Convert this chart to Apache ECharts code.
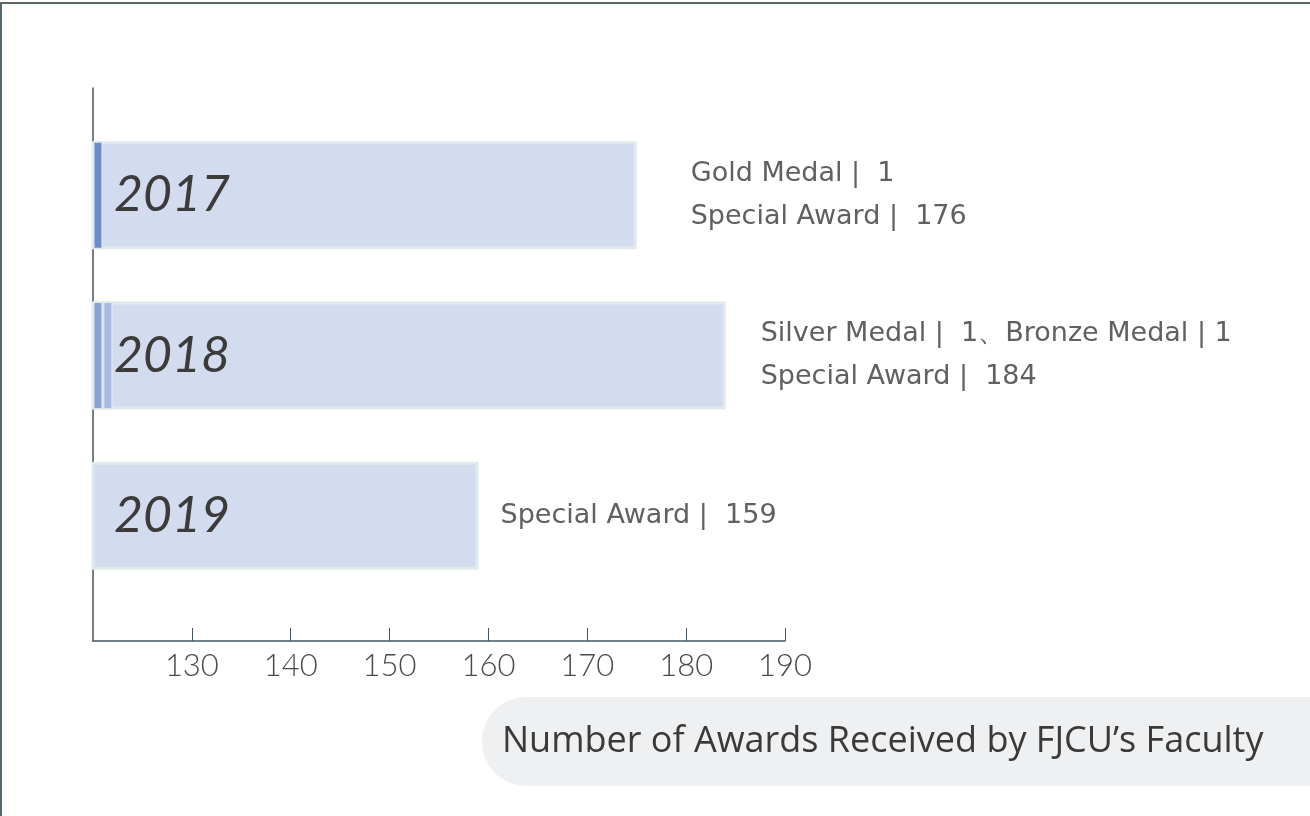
<!DOCTYPE html>
<html>
<head>
<meta charset="utf-8">
<title>Number of Awards Received by FJCU’s Faculty</title>
<script src="https://cdn.jsdelivr.net/npm/echarts@6/dist/echarts.min.js"></script>
<style>
  html, body { margin: 0; padding: 0; background: #fff; }
  #wrap { position: relative; width: 1310px; height: 816px; overflow: hidden; }
  #main { position: absolute; left: 0; top: 0; width: 1310px; height: 816px; }
  #frame { position: absolute; left: 0; top: 2px; right: -4px; bottom: -4px;
           border-top: 2px solid #56656e; border-left: 2px solid #56656e; pointer-events: none; }
</style>
</head>
<body>
<div id="wrap">
  <div id="main"></div>
  <div id="frame"></div>
</div>
<script>
// 年份
var years = ['2017', '2018', '2019']
// 特别奖 (柱长)
var specialAward = [175, 184, 159]
// 标注中的特别奖数量
var specialCount = [176, 184, 159]
// 奖牌
var goldMedal = [1, null, null]
var silverMedal = [null, 1, null]
var bronzeMedal = [null, 1, null]
var medalNotes = ['Gold Medal |  1', 'Silver Medal |  1、Bronze Medal | 1', '']
// X轴刻度
var xMin = 120
var xMax = 190
var xStep = 10

var chart = echarts.init(document.getElementById('main'))

var axisColor = '#46545f'
var noteGap = [54, 35, 22]  // 标注与柱子的距离

var option = {
  animation: false,
  title: {
    text: 'Number of Awards Received by FJCU’s Faculty',
    left: 482,
    top: 697,
    padding: [26, 140, 26, 20],
    backgroundColor: '#eff0f2',
    borderRadius: [44, 0, 0, 44],
    textStyle: {
      fontFamily: 'Open Sans',
      fontWeight: 'normal',
      fontSize: 36,
      lineHeight: 37,
      color: '#3a3a3a'
    }
  },
  grid: [
    // 坐标轴网格
    { left: 93, right: 525, top: 88, bottom: 175 },
    // 柱子网格
    { left: 93, right: 525, top: 115, bottom: 220 }
  ],
  xAxis: [
    {
      gridIndex: 0,
      type: 'value',
      min: xMin,
      max: xMax,
      interval: xStep,
      axisLine: { show: true, onZero: false, lineStyle: { color: axisColor, width: 1.5 } },
      axisTick: { show: true, inside: true, length: 13, lineStyle: { color: axisColor, width: 1 } },
      axisLabel: {
        showMinLabel: false,
        margin: 9,
        fontFamily: 'Lato',
        fontWeight: 300,
        fontSize: 31,
        color: '#4a4a4a'
      },
      splitLine: { show: false }
    },
    {
      gridIndex: 1,
      type: 'value',
      min: xMin,
      max: xMax,
      show: false
    }
  ],
  yAxis: [
    {
      gridIndex: 0,
      type: 'value',
      min: 0,
      max: 1,
      axisLine: { show: true, onZero: false, lineStyle: { color: axisColor, width: 1.5 } },
      axisTick: { show: false },
      axisLabel: { show: false },
      splitLine: { show: false }
    },
    {
      gridIndex: 1,
      type: 'category',
      data: years,
      inverse: true,
      z: 10,
      axisLine: { show: false },
      axisTick: { show: false },
      axisLabel: {
        inside: true,
        margin: 21,
        fontFamily: 'Lato',
        fontStyle: 'italic',
        fontSize: 50,
        color: '#3b3b3b'
      }
    }
  ],
  series: [
    {
      name: 'Special Award',
      type: 'bar',
      xAxisIndex: 1,
      yAxisIndex: 1,
      barWidth: 108,
      barGap: '-100%',
      data: specialAward.map(function (v, i) {
        return { value: v, label: { distance: noteGap[i] } }
      }),
      itemStyle: { color: '#d2dcee', borderColor: '#e0e9ec', borderWidth: 3 },
      label: {
        show: true,
        position: 'right',
        fontFamily: 'DejaVu Sans',
        fontSize: 27,
        lineHeight: 43,
        color: '#606060',
        formatter: function (p) {
          var s = 'Special Award |  ' + specialCount[p.dataIndex]
          return medalNotes[p.dataIndex] ? medalNotes[p.dataIndex] + '\n' + s : s
        }
      }
    },
    {
      // 透明底座, 让奖牌从轴起点开始
      name: 'base',
      type: 'bar',
      xAxisIndex: 1,
      yAxisIndex: 1,
      stack: 'medal',
      barWidth: 108,
      barGap: '-100%',
      silent: true,
      data: years.map(function () { return xMin }),
      itemStyle: { color: 'rgba(0,0,0,0)' }
    },
    {
      name: 'Gold Medal',
      type: 'bar',
      xAxisIndex: 1,
      yAxisIndex: 1,
      stack: 'medal',
      barWidth: 106,
      barGap: '-100%',
      data: goldMedal,
      itemStyle: { color: '#6b8bca', borderColor: '#dfe7ec', borderWidth: 1.5 }
    },
    {
      name: 'Silver Medal',
      type: 'bar',
      xAxisIndex: 1,
      yAxisIndex: 1,
      stack: 'medal',
      barWidth: 106,
      barGap: '-100%',
      data: silverMedal,
      itemStyle: { color: '#88a2d5', borderColor: '#dfe7ec', borderWidth: 1.5 }
    },
    {
      name: 'Bronze Medal',
      type: 'bar',
      xAxisIndex: 1,
      yAxisIndex: 1,
      stack: 'medal',
      barWidth: 106,
      barGap: '-100%',
      data: bronzeMedal,
      itemStyle: { color: '#a7bae1', borderColor: '#dfe7ec', borderWidth: 1.5 }
    }
  ]
}

chart.setOption(option)
</script>
</body>
</html>
